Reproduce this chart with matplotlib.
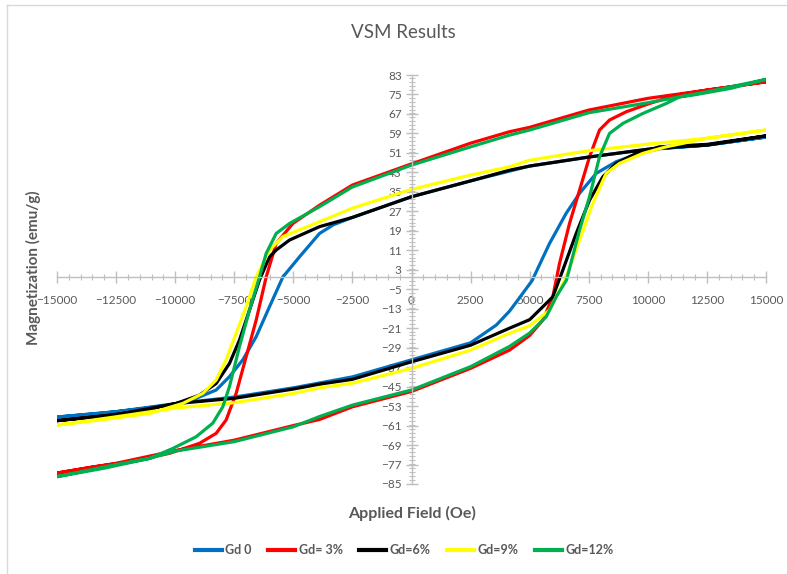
import numpy as np
import matplotlib.pyplot as plt
from matplotlib.lines import Line2D
from matplotlib.ticker import MultipleLocator

plt.rcParams['font.family'] = ['Lato', 'DejaVu Sans']

# Hysteresis loops: descending branch (up) then ascending branch (lo)
gd0_up_h = [15000, 12500, 11000, 10000, 7500, 5000, 2500, 0, -2500, -3300, -3893, -4740, -5445, -6009, -6573, -7138, -7703, -8266, -9113, -10241, -11500, -13000, -15000]
gd0_up_m = [57.5, 54.2, 53.2, 52.5, 49.3, 45.6, 39.5, 33, 24.5, 21.5, 17.9, 8.3, 0, -12.2, -24.5, -34, -40.9, -46.4, -49.8, -52.6, -54.2, -55.8, -57.5]
gd0_lo_h = [-15000, -12500, -10000, -7500, -5000, -3893, -2500, 0, 2500, 3590, 4147, 4570, 5100, 5840, 6545, 7110, 7816, 8662, 9648, 10500, 12500, 15000]
gd0_lo_m = [-57.5, -55.3, -52, -49.3, -45.5, -43.5, -41, -34, -27, -19.7, -14, -8.5, -1.5, 13.8, 26.2, 34.4, 42.6, 47.4, 50.8, 52.7, 54.2, 57.5]

gd3_up_h = [15000, 12500, 10000, 7500, 5000, 4147, 2500, 0, -2500, -3893, -5022, -5726, -6150, -6573, -6996, -7420, -7843, -8266, -8972, -10241, -12000, -13500, -15000]
gd3_up_m = [80.2, 76.8, 73.4, 68.6, 61.5, 59.7, 55, 46.5, 37.8, 29.5, 22, 13.8, 0, -17.7, -32.7, -47.8, -58.7, -64.2, -68.3, -72.4, -76, -78, -80.5]
gd3_lo_h = [-15000, -12500, -10000, -7500, -5000, -3893, -2500, 0, 2500, 4147, 5000, 5557, 5980, 6263, 6686, 7110, 7533, 7956, 8379, 9085, 10072, 11200, 12500, 15000]
gd3_lo_m = [-80.5, -76.5, -71.3, -67, -61, -58.5, -53.3, -47, -37.5, -30, -24, -17.7, -8.1, 5.6, 22, 35.7, 49.4, 60.4, 64.5, 67.9, 71.3, 74.7, 76.8, 80.2]

gd6_up_h = [15000, 12500, 11341, 10000, 7500, 5000, 4147, 2500, 0, -2500, -3893, -5163, -5726, -6009, -6432, -6856, -7280, -7703, -8266, -8972, -9958, -11087, -13000, -15000]
gd6_up_m = [58, 54.2, 53.5, 52.5, 49.3, 45.6, 43.9, 39.5, 33, 24.5, 20.7, 15.2, 11.1, 8.3, -1.2, -13.6, -25.9, -35.5, -43.7, -48.5, -51.9, -54.6, -57, -59]
gd6_lo_h = [-15000, -12500, -10000, -7500, -5000, -3893, -2500, 0, 2500, 4147, 5000, 5557, 5980, 6404, 6968, 7533, 8097, 8662, 9508, 10495, 12500, 15000]
gd6_lo_m = [-59, -56.5, -52, -49.8, -46, -44, -42, -34.8, -28, -21, -17.5, -12.2, -8.1, 2.9, 17.9, 31.6, 41.2, 46.7, 50.8, 53.5, 54.5, 58]

gd9_up_h = [15000, 12500, 10000, 7500, 5000, 4147, 2500, 0, -2500, -3893, -5445, -6009, -6573, -6996, -7420, -7843, -8266, -8831, -9677, -11087, -13000, -15000]
gd9_up_m = [60.4, 57, 54.6, 51.9, 48, 45.3, 41.9, 36, 28.3, 22.7, 16.6, 11.1, 0, -12.2, -23.1, -34, -42.3, -47.8, -51.9, -56, -58.5, -60.8]
gd9_lo_h = [-15000, -12500, -10000, -7500, -5000, -3893, -2500, 0, 2500, 4147, 5000, 5840, 6545, 7110, 7674, 8238, 8802, 9789, 10777, 12500, 15000]
gd9_lo_m = [-60.8, -57.4, -53.8, -51.6, -47.8, -45.5, -43.6, -37.5, -30, -23.1, -20, -13.6, 0, 15.2, 30.3, 42.6, 46.7, 50.8, 53.5, 57, 60.4]

gd12_up_h = [15000, 12500, 10000, 7500, 5000, 4147, 2500, 0, -2500, -3893, -5163, -5726, -6150, -6432, -6856, -7280, -7703, -7985, -8408, -9113, -10100, -11087, -13000, -15000]
gd12_up_m = [81.2, 76.1, 71.6, 67.5, 60.4, 58.3, 53.5, 46, 37, 28.9, 22, 17.9, 9.7, 0, -13.6, -28.6, -45, -53.3, -60, -65.6, -70.4, -74.5, -78.5, -82]
gd12_lo_h = [-15000, -12500, -11087, -10000, -7500, -5000, -3893, -2500, 0, 2500, 4147, 5000, 5700, 6130, 6560, 7110, 7533, 7956, 8379, 8943, 9789, 10777, 11341, 12060, 13500, 15000]
gd12_lo_m = [-82, -77, -74.5, -71.5, -67.6, -61.5, -57.3, -52.6, -46.4, -36.8, -28.5, -23, -16.3, -8, -1.2, 19.3, 33, 49.4, 59, 63.1, 67.2, 71.3, 74, 75, 77.5, 81.2]

labels = ['Gd 0', 'Gd= 3%', 'Gd=6%', 'Gd=9%', 'Gd=12%']
colors = ['#0070C0', '#FF0000', '#000000', '#FFFF00', '#00B050']
series = [
    (gd0_up_h + gd0_lo_h, gd0_up_m + gd0_lo_m),
    (gd3_up_h + gd3_lo_h, gd3_up_m + gd3_lo_m),
    (gd6_up_h + gd6_lo_h, gd6_up_m + gd6_lo_m),
    (gd9_up_h + gd9_lo_h, gd9_up_m + gd9_lo_m),
    (gd12_up_h + gd12_lo_h, gd12_up_m + gd12_lo_m),
]

fig = plt.figure(figsize=(7.87, 5.74), dpi=100)
ax = fig.add_axes([57 / 787, 1 - 484 / 574, 709 / 787, 409 / 574])

for (h, m), lab, c in zip(series, labels, colors):
    ax.plot(h, m, color=c, lw=2.3, label=lab, solid_joinstyle='round')

ax.set_xlim(-15000, 15000)
ax.set_ylim(-85, 83)
ax.set_xticks(np.arange(-15000, 15001, 2500))
ax.set_yticks(np.arange(-85, 84, 8))
ax.xaxis.set_minor_locator(MultipleLocator(500))
ax.yaxis.set_minor_locator(MultipleLocator(1.6))

axis_grey = '#BFBFBF'
ax.spines['left'].set_position(('data', 0))
ax.spines['bottom'].set_position(('data', 0))
ax.spines['right'].set_visible(False)
ax.spines['top'].set_visible(False)
for s in ['left', 'bottom']:
    ax.spines[s].set_color(axis_grey)
    ax.spines[s].set_linewidth(1.0)
ax.tick_params(which='major', direction='inout', length=8, width=1, color=axis_grey,
               labelcolor='#595959', labelsize=8.5)
ax.tick_params(which='minor', direction='inout', length=5, width=0.8, color=axis_grey)
ax.tick_params(axis='x', which='major', pad=9)
ax.tick_params(axis='y', which='major', pad=3)
ax.set_zorder(1)

fig.text(403 / 787, 1 - 33 / 574, 'VSM Results', ha='center', va='center',
         fontsize=13.5, color='#595959')
fig.text(33 / 787, 1 - 268 / 574, 'Magnetization (emu/g)', rotation=90, ha='center',
         va='center', fontsize=11, fontweight='bold', color='#595959')
fig.text(412 / 787, 1 - 513 / 574, 'Applied Field (Oe)', ha='center', va='center',
         fontsize=11.5, fontweight='bold', color='#595959')

handles = [Line2D([], [], color=c, lw=3) for c in colors]
leg = fig.legend(handles, labels, loc='center', bbox_to_anchor=(404 / 787, 1 - 550 / 574),
                 ncol=5, frameon=False, handlelength=2.2, handletextpad=0.25,
                 columnspacing=1.3, prop={'size': 9, 'weight': 'bold'})
for t in leg.get_texts():
    t.set_color('#595959')

# light chart-area border (top and left edges visible in the original)
fig.add_artist(Line2D([7 / 787, 1], [1 - 5 / 574, 1 - 5 / 574], color='#D9D9D9', lw=1))
fig.add_artist(Line2D([7 / 787, 7 / 787], [0, 1 - 5 / 574], color='#D9D9D9', lw=1))

fig.savefig('out.png', dpi=100)
